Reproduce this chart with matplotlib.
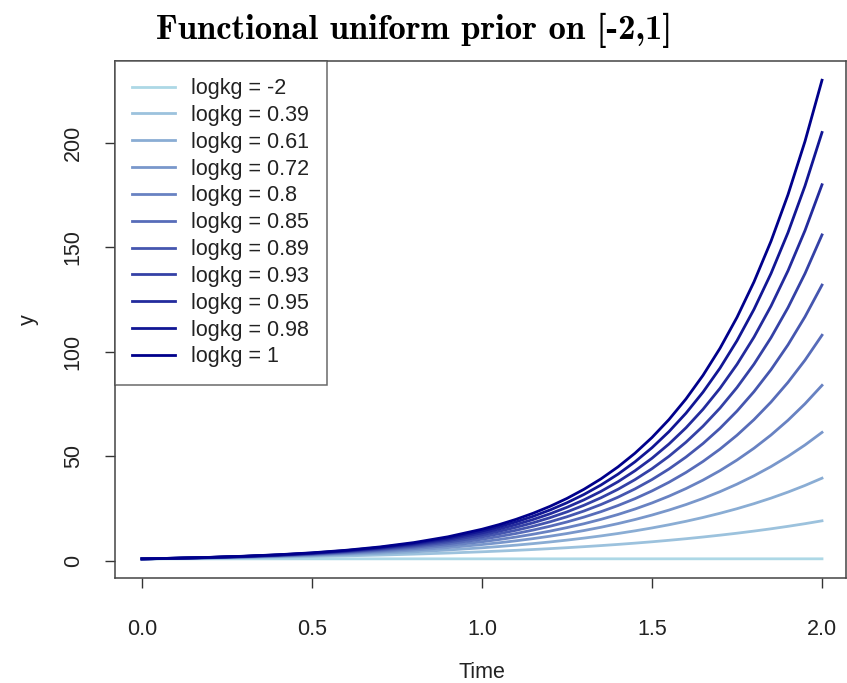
import matplotlib
matplotlib.use('Agg')
import matplotlib.pyplot as plt

plt.rcParams['font.family'] = ['Liberation Sans', 'DejaVu Sans']

time = [0.0, 0.1, 0.2, 0.3, 0.4, 0.5, 0.6, 0.7, 0.8, 0.9, 1.0,
        1.05, 1.1, 1.15, 1.2, 1.25, 1.3, 1.35, 1.4, 1.45, 1.5,
        1.55, 1.6, 1.65, 1.7, 1.75, 1.8, 1.85, 1.9, 1.95, 2.0]

logkg = ['-2', '0.39', '0.61', '0.72', '0.8', '0.85', '0.89', '0.93', '0.95', '0.98', '1']

y_m2 = [1.0, 1.0, 1.0, 1.0, 1.0, 1.01, 1.01, 1.01, 1.01, 1.01, 1.01,
        1.01, 1.01, 1.01, 1.01, 1.01, 1.02, 1.02, 1.02, 1.02, 1.02,
        1.02, 1.02, 1.02, 1.02, 1.02, 1.02, 1.02, 1.02, 1.02, 1.02]
y_039 = [1.0, 1.16, 1.34, 1.56, 1.81, 2.09, 2.43, 2.81, 3.26, 3.78, 4.38,
         4.72, 5.08, 5.47, 5.89, 6.34, 6.83, 7.35, 7.91, 8.52, 9.17,
         9.88, 10.63, 11.45, 12.33, 13.27, 14.29, 15.38, 16.56, 17.83, 19.2]
y_061 = [1.0, 1.20, 1.44, 1.74, 2.09, 2.51, 3.02, 3.62, 4.36, 5.24, 6.29,
         6.90, 7.56, 8.29, 9.09, 9.97, 10.93, 11.98, 13.13, 14.40, 15.79,
         17.31, 18.97, 20.80, 22.81, 25.00, 27.41, 30.05, 32.95, 36.12, 39.6]
y_072 = [1.0, 1.23, 1.51, 1.85, 2.28, 2.80, 3.44, 4.23, 5.19, 6.38, 7.84,
         8.69, 9.64, 10.68, 11.84, 13.12, 14.55, 16.12, 17.87, 19.81, 21.96,
         24.34, 26.98, 29.91, 33.15, 36.75, 40.74, 45.15, 50.05, 55.48, 61.5]
y_08 = [1.0, 1.25, 1.56, 1.94, 2.43, 3.03, 3.78, 4.72, 5.88, 7.34, 9.17,
        10.24, 11.44, 12.78, 14.27, 15.95, 17.81, 19.90, 22.23, 24.84, 27.75,
        31.00, 34.63, 38.68, 43.21, 48.28, 53.93, 60.25, 67.31, 75.19, 84.0]
y_085 = [1.0, 1.26, 1.60, 2.02, 2.55, 3.22, 4.07, 5.15, 6.51, 8.22, 10.39,
         11.68, 13.13, 14.76, 16.60, 18.66, 20.98, 23.58, 26.51, 29.80, 33.50,
         37.66, 42.34, 47.60, 53.51, 60.15, 67.62, 76.02, 85.46, 96.07, 108.0]
y_089 = [1.0, 1.28, 1.63, 2.08, 2.66, 3.39, 4.33, 5.52, 7.05, 9.00, 11.49,
         12.98, 14.67, 16.57, 18.72, 21.15, 23.90, 27.00, 30.51, 34.47, 38.94,
         44.00, 49.71, 56.17, 63.46, 71.70, 81.01, 91.52, 103.41, 116.83, 132.0]
y_093 = [1.0, 1.29, 1.66, 2.13, 2.75, 3.53, 4.55, 5.86, 7.54, 9.70, 12.49,
         14.17, 16.08, 18.24, 20.70, 23.48, 26.64, 30.23, 34.29, 38.91, 44.14,
         50.08, 56.82, 64.47, 73.14, 82.99, 94.15, 106.82, 121.20, 137.50, 156.0]
y_095 = [1.0, 1.30, 1.68, 2.18, 2.83, 3.66, 4.75, 6.16, 7.98, 10.35, 13.42,
         15.28, 17.39, 19.81, 22.55, 25.68, 29.24, 33.29, 37.91, 43.16, 49.14,
         55.96, 63.71, 72.55, 82.60, 94.05, 107.09, 121.94, 138.84, 158.09, 180.0]
y_098 = [1.0, 1.30, 1.70, 2.22, 2.90, 3.78, 4.94, 6.44, 8.41, 10.97, 14.32,
         16.36, 18.68, 21.34, 24.38, 27.85, 31.82, 36.34, 41.52, 47.43, 54.18,
         61.89, 70.70, 80.76, 92.25, 105.39, 120.39, 137.52, 157.10, 179.46, 205.0]
y_1 = [1.0, 1.31, 1.72, 2.26, 2.97, 3.89, 5.11, 6.71, 8.80, 11.56, 15.17,
       17.37, 19.90, 22.80, 26.12, 29.93, 34.29, 39.28, 45.00, 51.55, 59.06,
       67.66, 77.52, 88.80, 101.74, 116.55, 133.53, 152.97, 175.25, 200.77, 230.0]

curves = [y_m2, y_039, y_061, y_072, y_08, y_085, y_089, y_093, y_095, y_098, y_1]

# lightblue -> darkblue ramp
colors = ['#ADD8E6', '#9CC2DD', '#8AADD4', '#7997CB', '#6882C2', '#576CB9',
          '#4556AF', '#3441A6', '#232B9D', '#111694', '#00008B']

fig = plt.figure(figsize=(8.47, 6.83), dpi=100)
ax = fig.add_axes([115 / 847, 1 - 578 / 683, 731 / 847, 517 / 683])

for y, c, k in zip(curves, colors, logkg):
    ax.plot(time, y, color=c, lw=2.0, label='logkg = ' + k)

ax.set_xlim(-0.0794, 2.0706)
ax.set_ylim(-8.16, 239.2)

ax.set_xticks([0.0, 0.5, 1.0, 1.5, 2.0])
ax.set_xticklabels(['0.0', '0.5', '1.0', '1.5', '2.0'])
ax.set_yticks([0, 50, 100, 150, 200])
ax.set_yticklabels(['0', '50', '100', '150', '200'], rotation=90, va='center')

ax.tick_params(axis='both', direction='out', length=7.5, width=1.0,
               color='#333333', labelsize=15.5, labelcolor='#222222')
ax.tick_params(axis='x', pad=22)
ax.tick_params(axis='y', pad=15)

for s in ax.spines.values():
    s.set_color('#444444')
    s.set_linewidth(1.1)

leg = ax.legend(loc='upper left', borderaxespad=0, fontsize=15.5, frameon=True,
                fancybox=False, handlelength=2.0, handletextpad=0.75,
                labelspacing=0.27, borderpad=0.8)
leg.get_frame().set_edgecolor('#444444')
leg.get_frame().set_linewidth(1.1)
for t in leg.get_texts():
    t.set_color('#222222')

fig.text(414 / 847, 1 - 30 / 683, 'Functional uniform prior on [-2,1]',
         family=['cmb10', 'DejaVu Serif'], fontsize=25, ha='center', va='center')
fig.text(482 / 847, 1 - 672 / 683, 'Time', fontsize=15.5, color='#222222',
         ha='center', va='center')
fig.text(28 / 847, 1 - 320 / 683, 'y', fontsize=15.5, color='#222222',
         rotation=90, ha='center', va='center')

fig.savefig('out.png', dpi=100)
